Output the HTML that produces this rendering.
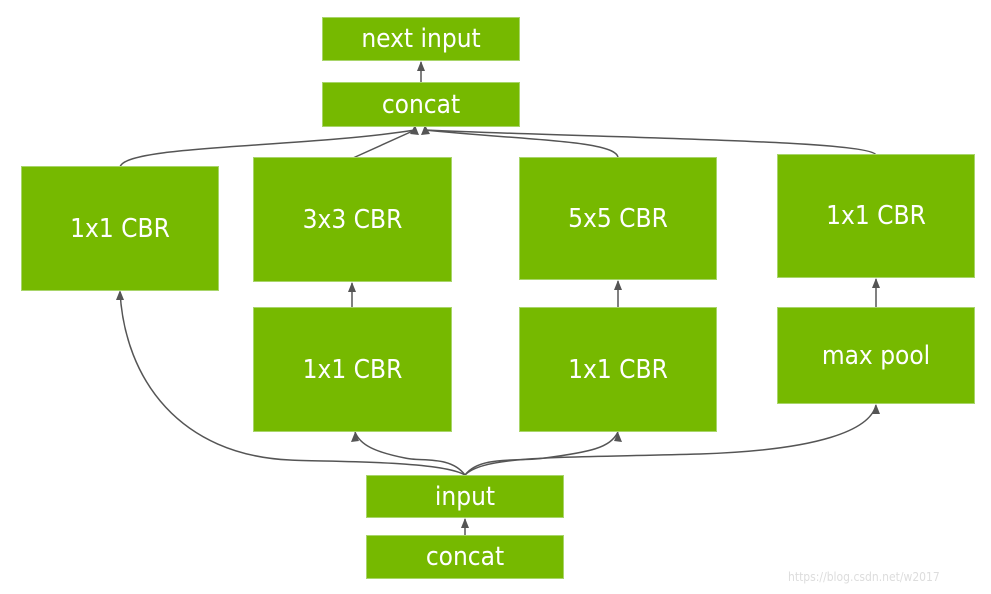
<!DOCTYPE html>
<html><head><style>
body{margin:0;width:991px;height:594px;background:#fff;position:relative;overflow:hidden;font-family:"DejaVu Sans Condensed","DejaVu Sans","Liberation Sans",sans-serif}
.b{position:absolute;background:#76b900;color:#fff;display:flex;align-items:center;justify-content:center;font-size:26px;box-shadow:0 0 0 1px #a8d56a}
svg{position:absolute;left:0;top:0}
</style></head><body>
<svg width="991" height="594">
<defs><marker id="a" markerWidth="10" markerHeight="10" refX="5" refY="9" orient="auto-start-reverse" markerUnits="userSpaceOnUse"><path d="M1,9 L5,0 L9,9 z" fill="#555"/></marker>
<marker id="u" markerWidth="10" markerHeight="10" refX="5" refY="1" orient="0" markerUnits="userSpaceOnUse"><path d="M1,10 L5,0 L9,10 z" fill="#555"/></marker></defs>
<g stroke="#555" stroke-width="1.5" fill="none">
<line x1="421" y1="83" x2="421" y2="62" marker-end="url(#u)"/>
<line x1="465" y1="536" x2="465" y2="519" marker-end="url(#u)"/>
<line x1="352" y1="308" x2="352" y2="283" marker-end="url(#u)"/>
<line x1="618" y1="308" x2="618" y2="281" marker-end="url(#u)"/>
<line x1="876" y1="308" x2="876" y2="279" marker-end="url(#u)"/>
<path d="M120,167 C125,145 300,148 415,130" />
<path d="M353,158 L415,130"/>
<path d="M618,158 C618,140 520,140 425,130"/>
<path d="M876,155 C870,140 600,138 425,130"/>
<path d="M465,475 C440,460 320,462 290,460 C180,455 125,380 120,292"/>
<path d="M465,475 C450,455 420,462 405,458 C375,452 360,445 355,432"/>
<path d="M465,475 C480,455 520,462 545,458 C590,452 610,448 618,432"/>
<path d="M465,475 C485,455 560,458 700,454 C820,450 870,430 876,405"/>
</g>
<g fill="#555">
<path d="M415,125 L419,135 L410,134z"/><path d="M425,125 L421,135 L430,134z"/>
<path d="M120,290 L116,300 L124,300z"/>
<path d="M355,432 L351,442 L359,441z"/>
<path d="M618,432 L614,441 L622,442z"/>
<path d="M876,404 L872,414 L880,414z"/>
</g>
</svg>
<div class="b" style="left:323px;top:18px;width:196px;height:42px">next input</div>
<div class="b" style="left:323px;top:83px;width:196px;height:43px">concat</div>
<div class="b" style="left:22px;top:167px;width:196px;height:123px">1x1 CBR</div>
<div class="b" style="left:254px;top:158px;width:197px;height:123px">3x3 CBR</div>
<div class="b" style="left:520px;top:158px;width:196px;height:121px">5x5 CBR</div>
<div class="b" style="left:778px;top:155px;width:196px;height:122px">1x1 CBR</div>
<div class="b" style="left:254px;top:308px;width:197px;height:123px">1x1 CBR</div>
<div class="b" style="left:520px;top:308px;width:196px;height:123px">1x1 CBR</div>
<div class="b" style="left:778px;top:308px;width:196px;height:95px">max pool</div>
<div class="b" style="left:367px;top:476px;width:196px;height:41px">input</div>
<div class="b" style="left:367px;top:536px;width:196px;height:42px">concat</div>
<div style="position:absolute;left:788px;top:570px;font-size:12px;color:#ddd">https://blog.csdn.net/w2017</div>
</body></html>
